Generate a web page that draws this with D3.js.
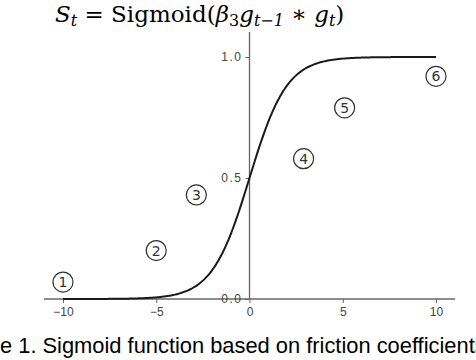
<!DOCTYPE html>
<html>
<head>
<meta charset="UTF-8">
<title>Sigmoid</title>
<script src="https://cdn.jsdelivr.net/npm/d3@7"></script>
<style>
  html, body { margin: 0; padding: 0; background: #fff; overflow: hidden; }
</style>
</head>
<body>
<div id="chart"></div>
<script>
// data
var xTicks = [-10, -5, 0, 5, 10];
var yTicks = [0, 0.5, 1];
var curveX = d3.range(-10, 10.01, 0.1);   // sample points for sigmoid(x)
var curveY = curveX.map(function(x){ return 1 / (1 + Math.exp(-x)); });
var markLabels = ["1", "2", "3", "4", "5", "6"];
var markX = [-10, -5, -2.85, 2.9, 5.1, 10];
var markY = [0.07, 0.2, 0.43, 0.58, 0.79, 0.92];
var caption = "Figure 1. Sigmoid function based on friction coefficients";

var w = 476, h = 360;
var svg = d3.select("#chart").append("svg")
    .attr("width", w).attr("height", h);

var x = d3.scaleLinear().domain([-10, 10]).range([63, 436]);
var y = d3.scaleLinear().domain([0, 1]).range([299, 57]);

// title formula
var title = svg.append("text")
    .attr("x", 55).attr("y", 22)
    .style("font-family", "'DejaVu Serif', 'Liberation Serif', serif")
    .style("font-size", "23px")
    .attr("fill", "#000");
title.append("tspan").style("font-style", "italic").text("S");
title.append("tspan").style("font-style", "italic").attr("dy", 4).style("font-size", "16px").text("t");
title.append("tspan").attr("dy", -4).text(" = Sigmoid(");
title.append("tspan").style("font-style", "italic").text("β");
title.append("tspan").attr("dy", 4).style("font-size", "16px").text("3");
title.append("tspan").attr("dy", -4).style("font-style", "italic").text("g");
title.append("tspan").attr("dy", 4).style("font-size", "16px").style("font-style", "italic").text("t−1");
title.append("tspan").attr("dy", -4).text(" ∗ ");
title.append("tspan").style("font-style", "italic").text("g");
title.append("tspan").attr("dy", 4).style("font-size", "16px").style("font-style", "italic").text("t");
title.append("tspan").attr("dy", -4).text(")");

var axisColor = "#666";
var tickFont = "'Liberation Sans', Arial, sans-serif";

// x axis
var xAxis = svg.append("g")
    .attr("transform", "translate(0," + y(0) + ")")
    .call(d3.axisBottom(x).tickValues(xTicks).tickSize(4).tickSizeOuter(0)
        .tickFormat(function(d){ return d < 0 ? "−" + Math.abs(d) : d; }));
xAxis.select(".domain").remove();
xAxis.append("line").attr("x1", 44).attr("x2", 455).attr("stroke", axisColor).attr("stroke-width", 1.3);
xAxis.selectAll(".tick line").attr("stroke", axisColor);
xAxis.selectAll(".tick text").attr("fill", "#444").attr("dy", "0.85em")
    .style("font-family", tickFont).style("font-size", "12px");

// y axis
var yAxis = svg.append("g")
    .attr("transform", "translate(" + x(0) + ",0)")
    .call(d3.axisLeft(y).tickValues(yTicks).tickSize(4).tickSizeOuter(0)
        .tickFormat(d3.format(".1f")));
yAxis.select(".domain").remove();
yAxis.append("line").attr("y1", 32).attr("y2", y(0)).attr("stroke", axisColor).attr("stroke-width", 1.3);
yAxis.selectAll(".tick line").attr("stroke", axisColor);
yAxis.selectAll(".tick text").attr("fill", "#444")
    .style("font-family", tickFont).style("font-size", "12px")
    .style("letter-spacing", "1.5px");

// sigmoid curve
var line = d3.line()
    .x(function(d, i){ return x(curveX[i]); })
    .y(function(d){ return y(d); })
    .curve(d3.curveBasis);
svg.append("path").datum(curveY)
    .attr("d", line)
    .attr("fill", "none")
    .attr("stroke", "#1a1a1a")
    .attr("stroke-width", 2);

// circled numbers
var marks = svg.selectAll(".mark").data(markLabels).enter().append("g")
    .attr("class", "mark")
    .attr("transform", function(d, i){ return "translate(" + x(markX[i]) + "," + y(markY[i]) + ")"; });
marks.append("circle").attr("r", 10).attr("fill", "#fff")
    .attr("stroke", "#333").attr("stroke-width", 1.2);
marks.append("text").attr("text-anchor", "middle").attr("dy", "0.36em")
    .style("font-family", "'DejaVu Sans', sans-serif").style("font-size", "14px")
    .attr("fill", "#333").text(function(d){ return d; });

// caption, cut at both edges like the source: fit "e 1. ... coefficient" into the width
var capFont = "'Liberation Sans', Arial, sans-serif";
function measure(str, size) {
    var t = svg.append("text").style("font-family", capFont).style("font-size", size + "px").text(str);
    var len = t.node().getComputedTextLength();
    t.remove();
    return len;
}
var visible = caption.slice(5, caption.length - 1);   // "e 1. ... coefficient"
var capSize = 20 * 475 / measure(visible, 20);
var cut = measure(caption.slice(0, 5), capSize);
svg.append("text")
    .attr("x", -cut).attr("y", 353)
    .style("font-family", capFont).style("font-size", capSize + "px")
    .attr("fill", "#000")
    .text(caption);
</script>
</body>
</html>
